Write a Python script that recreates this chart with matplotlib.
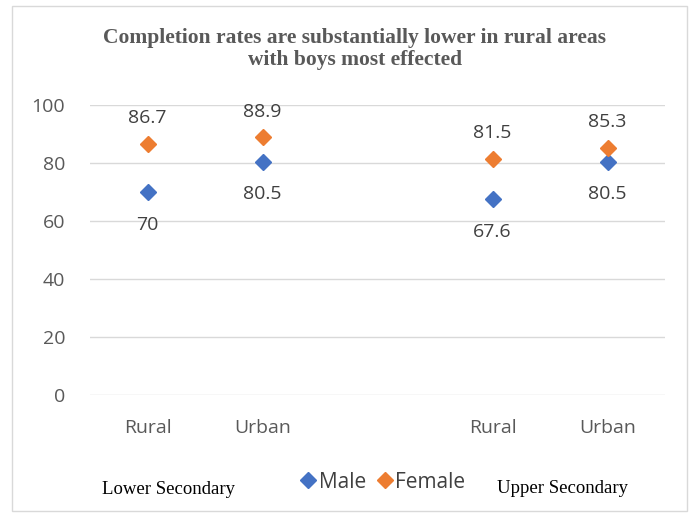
import numpy as np
import matplotlib.pyplot as plt
from matplotlib.patches import Rectangle

categories = ["Rural", "Urban", "", "Rural", "Urban"]
male = [70, 80.5, None, 67.6, 80.5]
female = [86.7, 88.9, None, 81.5, 85.3]
male_labels = ["70", "80.5", "", "67.6", "80.5"]
female_labels = ["86.7", "88.9", "", "81.5", "85.3"]

blue = "#4472C4"
orange = "#ED7D31"
txt = "#404040"
sans = "Open Sans"

fig = plt.figure(figsize=(7, 5.13), dpi=100)
fig.patches.append(Rectangle((0.017, 0.004), 0.965, 0.985, transform=fig.transFigure,
                             fill=False, edgecolor="#D9D9D9", linewidth=1))
ax = fig.add_axes([0.1286, 0.23, 0.8214, 0.565])

x = np.arange(len(categories))
idx = [i for i in x if male[i] is not None]
ax.plot(idx, [male[i] for i in idx], "D", color=blue, markersize=8.5, linestyle="none",
        label="Male", zorder=3)
ax.plot(idx, [female[i] for i in idx], "D", color=orange, markersize=8.5, linestyle="none",
        label="Female", zorder=3)

for i in idx:
    ax.annotate(female_labels[i], (i, female[i]), xytext=(0, 12), textcoords="offset points",
                ha="center", va="bottom", fontsize=14, color=txt, family=sans)
    ax.annotate(male_labels[i], (i, male[i]), xytext=(0, -17), textcoords="offset points",
                ha="center", va="top", fontsize=14, color=txt, family=sans)

ax.set_xlim(-0.5, 4.5)
ax.set_ylim(0, 100)
ax.set_yticks(range(0, 101, 20))
ax.set_xticks(x)
ax.set_xticklabels(categories)
ax.grid(axis="y", color="#D9D9D9", linewidth=1)
ax.set_axisbelow(True)
for s in ax.spines.values():
    s.set_visible(False)
ax.tick_params(length=0, labelsize=14, labelcolor="#595959")
ax.tick_params(axis="y", pad=18)
ax.tick_params(axis="x", pad=17)
for lb in ax.get_xticklabels() + ax.get_yticklabels():
    lb.set_family(sans)

fig.text(0.507, 0.904, "Completion rates are substantially lower in rural areas\nwith boys most effected",
         ha="center", va="center", fontsize=15.5, fontweight="bold", color="#595959",
         family="Liberation Serif", linespacing=1.1)

fig.legend(loc="center", bbox_to_anchor=(0.545, 0.06), ncol=2, frameon=False,
           prop={"family": sans, "size": 15}, labelcolor=txt, handletextpad=0.0,
           columnspacing=0.4, handlelength=1.0, markerscale=1.0)
fig.text(0.241, 0.046, "Lower Secondary", ha="center", va="center", fontsize=13.5,
         family="Liberation Serif", color="black")
fig.text(0.804, 0.048, "Upper Secondary", ha="center", va="center", fontsize=13.5,
         family="Liberation Serif", color="black")

fig.savefig("out.png", dpi=100)
